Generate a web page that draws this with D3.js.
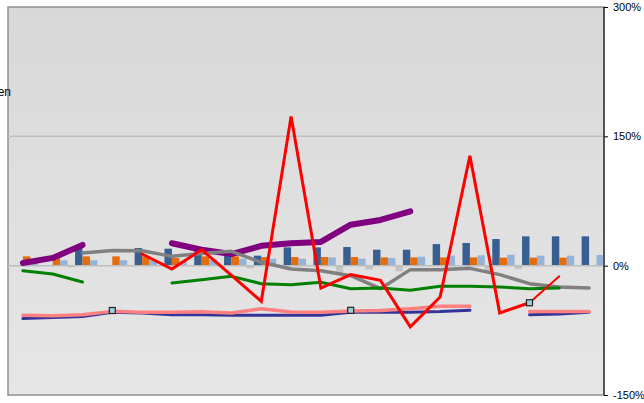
<!DOCTYPE html>
<html>
  <head>
    <meta charset="utf-8">
    <title></title>
  </head>
  <style>
  body{
      margin: 0;
      font-family: "Liberation Sans", Arial, sans-serif;
    }
  .axis-y{
      color: #000;
  }
  .axis-y .tick text{
      fill: #000;
      font-size: 11px;
  }
  </style>
  <script src="https://d3js.org/d3.v7.min.js"></script>
  <body>
    <script>
    // categories (unlabelled in the picture)
    var categories = ["1","2","3","4","5","6","7","8","9","10","11","12","13","14","15","16","17","18","19","20"]

    // bar series, percent
    var barGray   = [null, null, -2, null, null, null, null, null, -3, null, null, -8, -4.5, -6.5, null, null, -6.5, -4, null, null]
    var barDark   = [null, null, 22, null, 20.5, 19.7, 18.5, 12.7, 11.6, 21.2, 21.2, 21.6, 18.5, 18.5, 25, 26.3, 30.9, 34, 34, 34]
    var barOrange = [10.8, 9, 10.8, 10.8, 10.8, 8.9, 10.8, 10.8, 10, 10, 10, 10, 9.6, 9.6, 9.6, 9.6, 9.3, 9.3, 9.3, null]
    var barLight  = [3, 6.2, 6.2, 6.2, 6.2, 5, 7, 8.1, 8.1, 8.1, 9.6, 8.1, 8.9, 10.4, 11.6, 12, 12.7, 11.6, 11.6, 12.4]

    // line series, percent (null = gap)
    var linePurple = [3, 9, 24, null, null, 26, 18.5, 13.5, 23, 26, 27.5, 47.5, 53, 63, null, null, null, null, null, null]
    var lineGray   = [null, null, 14.7, 17.7, 17.4, 10.8, 14, 16.6, 3.9, -3.9, -5.8, -11.6, -26.7, -4.6, -4.6, -3.1, -10.4, -20.9, -24.7, -25.9]
    var lineGreen  = [-5.8, -9.7, -19, null, null, -20, -16.2, -12.4, -20.9, -22, -19.3, -26.7, -25.9, -28.6, -24, -24, -24.7, -26.7, -25.9, null]
    var lineRed    = [null, null, null, null, 13.5, -3.9, 18.5, -11.3, -41.4, 173, -25.9, -10.4, -17, -71, -36.3, 127.5, -54.9, -43, null, null]
    var lineRedEnd = [null, null, null, null, null, null, null, null, null, null, null, null, null, null, null, null, null, -43, -12.4, null]
    var linePink   = [-57.6, -58, -57, -53, -54, -54, -53.5, -55, -50, -53.7, -54, -52.5, -52, -50, -47, -47, null, -53.3, -53.3, -53.3]
    var lineNavy   = [-61.4, -60, -59, -54, -55, -57, -57, -57.6, -57.6, -57.6, -57.6, -54, -54, -54, -53.3, -51.8, null, -57, -56, -54]
    var markers    = [null, null, null, -52, null, null, null, null, null, null, null, -51.8, null, null, null, null, null, -43, null, null]

    var yTicks = [-150, 0, 150, 300]

    var width = 644
    var height = 403
    var plot = { left: 8, top: 7, right: 604, bottom: 395 }

    var svg = d3.select("body")
                .append("svg")
                .attr("width", width)
                .attr("height", height)

    var grad = svg.append("defs")
                  .append("linearGradient")
                  .attr("id", "bg")
                  .attr("x1", 0).attr("y1", 0)
                  .attr("x2", 0).attr("y2", 1)
    grad.append("stop").attr("offset", "0%").attr("stop-color", "#d8d8d8")
    grad.append("stop").attr("offset", "100%").attr("stop-color", "#e6e6e6")

    svg.append("rect")
       .attr("x", plot.left)
       .attr("y", plot.top)
       .attr("width", plot.right - plot.left)
       .attr("height", plot.bottom - plot.top)
       .attr("fill", "url(#bg)")
       .attr("stroke", "#909090")
       .attr("stroke-width", 1.5)

    // legend text, cut off at the left edge like in the original
    svg.append("text")
       .attr("x", 11)
       .attr("y", 96)
       .attr("text-anchor", "end")
       .attr("font-size", "12px")
       .attr("fill", "#000")
       .text("Legenden")

    var xScale = d3.scaleBand()
                   .domain(categories)
                   .range([plot.left, plot.right])
                   .padding(0)

    var yScale = d3.scaleLinear()
                   .domain([-150, 300])
                   .range([plot.bottom, plot.top])

    var subScale = d3.scaleBand()
                     .domain(["gray", "dark", "orange", "light"])
                     .range([0, xScale.bandwidth()])
                     .padding(0)

    // gridline at 150%
    svg.append("g")
       .attr("class", "grid")
       .selectAll("line")
       .data([150])
       .enter()
       .append("line")
       .attr("x1", plot.left)
       .attr("x2", plot.right)
       .attr("y1", function(d){ return yScale(d) })
       .attr("y2", function(d){ return yScale(d) })
       .attr("stroke", "#c0c0c0")
       .attr("stroke-width", 1.5)

    // bars
    var barSeries = [
      { key: "gray", values: barGray, color: "#c3c3c3" },
      { key: "dark", values: barDark, color: "#375f91" },
      { key: "orange", values: barOrange, color: "#e46c0a" },
      { key: "light", values: barLight, color: "#95b3d7" }
    ]

    var bars = svg.append("g")
    barSeries.forEach(function(s){
      bars.append("g")
          .selectAll("rect")
          .data(s.values.map(function(v, i){ return { c: categories[i], v: v } }).filter(function(d){ return d.v !== null }))
          .enter()
          .append("rect")
          .attr("x", function(d){ return xScale(d.c) + subScale(s.key) })
          .attr("width", subScale.bandwidth())
          .attr("y", function(d){ return yScale(Math.max(0, d.v)) })
          .attr("height", function(d){ return Math.abs(yScale(d.v) - yScale(0)) })
          .attr("fill", s.color)
    })

    // category axis line at 0%
    svg.append("line")
       .attr("x1", plot.left)
       .attr("x2", plot.right)
       .attr("y1", yScale(0))
       .attr("y2", yScale(0))
       .attr("stroke", "#bdbdbd")
       .attr("stroke-width", 1.5)

    var line = d3.line()
                 .defined(function(d){ return d !== null })
                 .x(function(d, i){ return xScale(categories[i]) + xScale.bandwidth() / 2 })
                 .y(function(d){ return yScale(d) })

    var lineSeries = [
      { values: linePurple, color: "#800080", w: 6, join: "round" },
      { values: lineGray, color: "#808080", w: 3.5, join: "round" },
      { values: lineGreen, color: "#008000", w: 3, join: "round" },
      { values: lineNavy, color: "#333399", w: 3, join: "round" },
      { values: linePink, color: "#ff8080", w: 3.5, join: "round" },
      { values: lineRed, color: "#ff0000", w: 3, join: "miter" },
      { values: lineRedEnd, color: "#ff0000", w: 2, join: "miter" }
    ]

    svg.append("g")
       .selectAll("path")
       .data(lineSeries)
       .enter()
       .append("path")
       .attr("d", function(d){ return line(d.values) })
       .attr("fill", "none")
       .attr("stroke", function(d){ return d.color })
       .attr("stroke-width", function(d){ return d.w })
       .attr("stroke-linejoin", function(d){ return d.join })
       .attr("stroke-linecap", "round")

    // square markers
    svg.append("g")
       .selectAll("rect")
       .data(markers.map(function(v, i){ return { c: categories[i], v: v } }).filter(function(d){ return d.v !== null }))
       .enter()
       .append("rect")
       .attr("x", function(d){ return xScale(d.c) + xScale.bandwidth() / 2 - 3 })
       .attr("y", function(d){ return yScale(d.v) - 3 })
       .attr("width", 6)
       .attr("height", 6)
       .attr("fill", "#9cd0e0")
       .attr("stroke", "#222")
       .attr("stroke-width", 1.2)

    // right axis
    var yAxis = d3.axisRight(yScale)
                  .tickValues(yTicks)
                  .tickSize(4)
                  .tickPadding(5)
                  .tickFormat(function(d){ return d + "%" })

    svg.append("g")
       .attr("class", "axis-y")
       .attr("transform", "translate(" + plot.right + ",0)")
       .call(yAxis)
       .call(function(g){ g.select(".domain").attr("d", "M0," + plot.top + "V" + plot.bottom).attr("stroke", "#000") })
       .attr("font-family", "Liberation Sans, Arial, sans-serif")

    </script>
  </body>
</html>
